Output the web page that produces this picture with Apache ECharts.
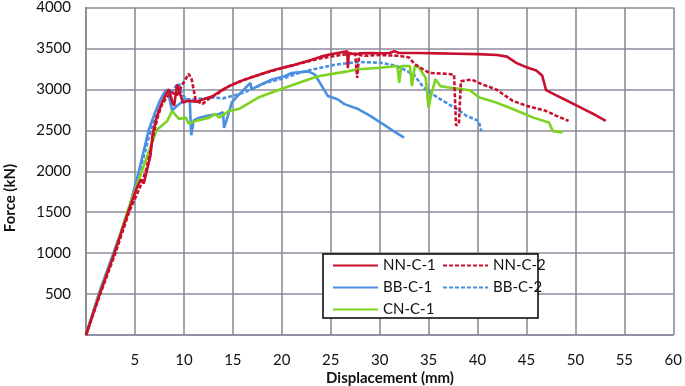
<!DOCTYPE html>
<html>
<head>
<meta charset="utf-8">
<script src="https://cdn.jsdelivr.net/npm/echarts@6/dist/echarts.min.js"></script>
<style>
html, body { margin: 0; padding: 0; background: #fff; }
#chart { width: 685px; height: 386px; }
</style>
</head>
<body>
<div id="chart"></div>
<script>
// displacement (mm), force (kN) pairs
var nnC1 = [
    [0, 0], [1.4, 500], [2.9, 1000], [4.3, 1500], [5.2, 1800], [5.6, 1900], [5.9, 1850],
    [6.2, 2000], [6.6, 2200], [6.8, 2450], [7.2, 2650], [7.7, 2820], [8.2, 2950], [8.5, 3000],
    [8.8, 2850], [9.0, 2800], [9.3, 3060], [9.6, 2950], [9.9, 2840], [10.5, 2860], [11.3, 2850],
    [12, 2880], [13, 2920], [14, 3000], [15, 3060], [16, 3110], [17, 3150], [18, 3190],
    [19, 3230], [20, 3260], [21, 3290], [22, 3325], [23, 3360], [24, 3400], [25, 3430],
    [26, 3450], [26.7, 3465], [26.75, 3260], [26.85, 3445], [27.5, 3430], [28, 3440],
    [29, 3445], [30, 3440], [31, 3445], [31.5, 3465], [32, 3445], [34, 3445], [36, 3440],
    [38, 3435], [40, 3430], [42, 3420], [43, 3400], [44, 3320], [45, 3270], [46, 3230],
    [46.6, 3170], [47, 2990], [48, 2930], [49, 2870], [50, 2810], [51, 2750], [52, 2690],
    [53.1, 2615]
];
var nnC2 = [
    [0, 0], [1.45, 500], [3.0, 1000], [4.4, 1500], [5.5, 1800], [6.1, 2000], [6.5, 2200],
    [6.9, 2450], [7.3, 2650], [7.7, 2800], [8.2, 2900], [8.8, 2960], [9.3, 2930], [9.8, 3050],
    [10.5, 3190], [10.8, 3120], [11.2, 2870], [11.9, 2820], [12.5, 2880], [13.6, 2960],
    [14.6, 3040], [16, 3110], [18, 3190], [20, 3260], [22, 3320], [24, 3380], [26, 3420],
    [27.5, 3440], [27.7, 3140], [27.9, 3420], [28.5, 3410], [30, 3420], [32, 3410],
    [33, 3390], [33.6, 3305], [35.1, 3200], [36.9, 3190], [37.6, 3180], [37.8, 2560],
    [38.1, 2580], [38.3, 3100], [39.4, 3120], [40.5, 3060], [41.9, 3000], [43.6, 2860],
    [45, 2800], [47, 2737], [48, 2680], [49.3, 2615]
];
var bbC1 = [
    [0, 0], [1.3, 500], [2.8, 1000], [4.3, 1500], [5.4, 2000], [6.4, 2500], [7, 2700],
    [7.5, 2850], [8, 2960], [8.3, 3000], [8.6, 2850], [8.8, 2740], [9.3, 2800], [10.2, 2880],
    [10.6, 2870], [10.75, 2440], [11, 2620], [11.5, 2650], [12.5, 2680], [13.6, 2700],
    [14, 2720], [14.1, 2530], [14.3, 2600], [14.9, 2840], [15.5, 2920], [16.8, 3080],
    [16.9, 3000], [17.9, 3060], [19, 3120], [20.3, 3160], [21, 3200], [22.7, 3220],
    [23.4, 3180], [24, 3060], [24.7, 2920], [25.7, 2880], [26.4, 2820], [27.8, 2760],
    [29, 2680], [30.1, 2595], [31.3, 2500], [32.5, 2410]
];
var bbC2 = [
    [0, 0], [1.3, 500], [2.85, 1000], [4.3, 1500], [5.5, 2000], [6.5, 2450], [7, 2650],
    [7.5, 2780], [8, 2860], [8.7, 2960], [9.2, 3040], [9.5, 3070], [9.8, 2950], [10.2, 2880],
    [11, 2880], [12, 2890], [13, 2900], [14, 2890], [15.6, 2940], [17.3, 3020], [18.3, 3080],
    [19.7, 3120], [20.3, 3140], [21.5, 3190], [23, 3240], [25.4, 3300], [27.8, 3335],
    [30.1, 3325], [31.8, 3285], [33.5, 3180], [34.5, 3020], [35.9, 2900], [36.9, 2830],
    [37.9, 2760], [38.9, 2675], [40.1, 2615], [40.4, 2490]
];
var cnC1 = [
    [0, 0], [1.35, 500], [2.9, 1000], [4.2, 1500], [5.7, 2000], [7.2, 2500], [8.3, 2615],
    [8.8, 2735], [9.5, 2640], [10.2, 2655], [10.5, 2580], [11.2, 2615], [12.6, 2655],
    [13.2, 2700], [13.6, 2655], [14.6, 2735], [15.6, 2760], [17.6, 2900], [20.3, 3020],
    [23.7, 3160], [26.7, 3220], [27.8, 3245], [30.1, 3265], [31.8, 3285], [32, 3080],
    [32.2, 3285], [33.1, 3285], [33.3, 3040], [33.6, 3285], [34, 3270], [34.7, 3140],
    [35, 2775], [35.2, 2900], [35.7, 3125], [36.2, 3040], [36.9, 3025], [39.2, 2990],
    [40.2, 2900], [41.9, 2840], [43.6, 2760], [45.7, 2655], [47.3, 2595], [47.7, 2490],
    [48.7, 2475]
];

var chartDom = document.getElementById('chart');
var myChart = echarts.init(chartDom);
var gridColor = '#7f8a8e';
var font = 'Lato, "Open Sans", sans-serif';

function hideZero(v) { return v === 0 ? '' : v; }

function lineSeries(name, data, color, dashed) {
    return {
        name: name,
        type: 'line',
        data: data,
        symbol: 'none',
        showSymbol: false,
        animation: false,
        lineStyle: { color: color, width: 2.6, type: dashed ? [4, 2] : 'solid' },
        itemStyle: { color: color }
    };
}

var legendBase = {
    top: 258, orient: 'vertical', padding: 0,
    itemWidth: 45, itemHeight: 14, itemGap: 7,
    itemStyle: { opacity: 0 },
    textStyle: { color: '#111', fontSize: 15, fontFamily: font, lineHeight: 14 }
};

var option = {
    animation: false,
    grid: { left: 86, right: 8, top: 6, bottom: 51 },
    xAxis: {
        type: 'value', min: 0, max: 60, interval: 5,
        axisLine: { lineStyle: { color: '#8a8aa6', width: 1.5 } },
        axisTick: { show: false },
        splitLine: { lineStyle: { color: gridColor, width: 1.5 } },
        axisLabel: { color: '#111', fontSize: 15, fontFamily: font, margin: 18, formatter: hideZero }
    },
    yAxis: {
        type: 'value', min: 0, max: 4000, interval: 500,
        axisLine: { show: true, lineStyle: { color: gridColor, width: 1.5 } },
        axisTick: { show: false },
        splitLine: { lineStyle: { color: '#8f8a9c', width: 1.5 } },
        axisLabel: { color: '#111', fontSize: 15, fontFamily: font, margin: 15, formatter: hideZero }
    },
    legend: [
        Object.assign({ left: 332, data: ['NN-C-1', 'BB-C-1', 'CN-C-1'] }, legendBase),
        Object.assign({ left: 442, data: ['NN-C-2', 'BB-C-2'] }, legendBase)
    ],
    graphic: [
        {
            type: 'rect', z: 3,
            shape: { x: 323, y: 254, width: 215, height: 64 },
            style: { fill: '#fff', stroke: '#000', lineWidth: 1.5 }
        },
        {
            type: 'text', x: 10, y: 198, rotation: Math.PI / 2,
            style: { text: 'Force (kN)', fill: '#111', font: 'bold 15px ' + font, textAlign: 'center', textVerticalAlign: 'middle' }
        },
        {
            type: 'text', x: 390, y: 378,
            style: { text: 'Displacement (mm)', fill: '#111', font: 'bold 15px ' + font, textAlign: 'center', textVerticalAlign: 'middle' }
        }
    ],
    series: [
        lineSeries('BB-C-2', bbC2, '#4a90e2', true),
        lineSeries('BB-C-1', bbC1, '#4a90e2', false),
        lineSeries('CN-C-1', cnC1, '#7ed321', false),
        lineSeries('NN-C-2', nnC2, '#c8102e', true),
        lineSeries('NN-C-1', nnC1, '#c8102e', false)
    ]
};

myChart.setOption(option);
</script>
</body>
</html>
